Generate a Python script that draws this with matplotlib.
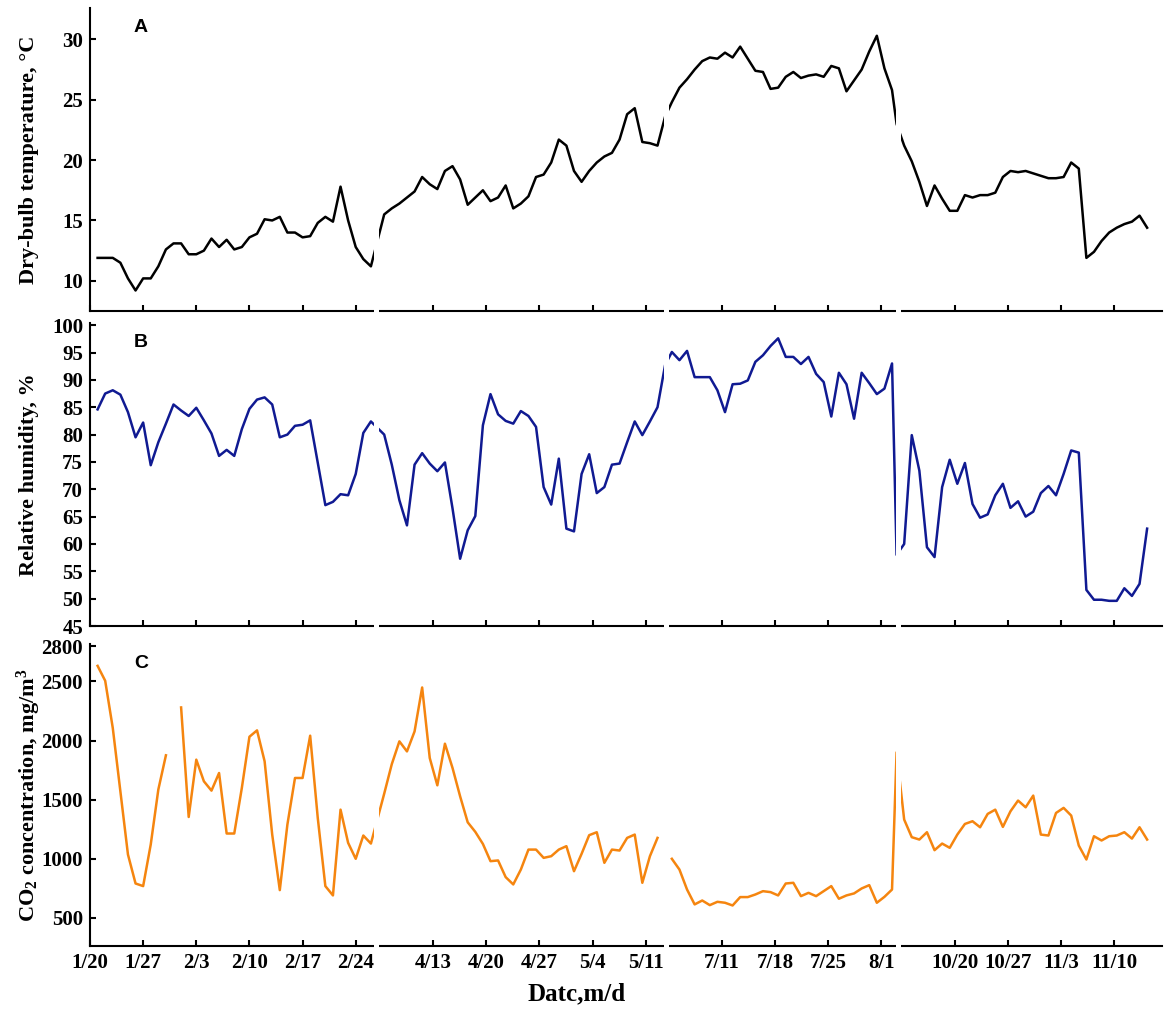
import numpy as np
from matplotlib import pyplot as plt

plt.rcParams['font.family'] = ['Liberation Serif', 'DejaVu Serif']
plt.rcParams['font.weight'] = 'bold'
plt.rcParams['mathtext.fontset'] = 'custom'
plt.rcParams['mathtext.rm'] = 'Liberation Serif:bold'
plt.rcParams['mathtext.it'] = 'Liberation Serif:bold:italic'
plt.rcParams['mathtext.bf'] = 'Liberation Serif:bold'

temp_s1 = [11.9, 11.9, 11.9, 11.5, 10.2, 9.2, 10.2, 10.2, 11.2, 12.6, 13.1, 13.1, 12.2,
           12.2, 12.5, 13.5, 12.8, 13.4, 12.6, 12.8, 13.6, 13.9, 15.1, 15.0, 15.3, 14.0,
           14.0, 13.6, 13.7, 14.8, 15.3, 14.9, 17.8, 15.0, 12.8, 11.8, 11.2]
temp_s2 = [15.5, 16.0, 16.4, 16.9, 17.4, 18.6, 18.0, 17.6, 19.1, 19.5, 18.4, 16.3, 16.9,
           17.5, 16.6, 16.9, 17.9, 16.0, 16.4, 17.0, 18.6, 18.8, 19.8, 21.7, 21.2, 19.1,
           18.2, 19.1, 19.8, 20.3, 20.6, 21.7, 23.8, 24.3, 21.5, 21.4, 21.2, 23.6]
temp_s3 = [24.8, 26.0, 26.7, 27.5, 28.2, 28.5, 28.4, 28.9, 28.5, 29.4, 28.4, 27.4, 27.3,
           25.9, 26.0, 26.9, 27.3, 26.8, 27.0, 27.1, 26.9, 27.8, 27.6, 25.7, 26.6, 27.5,
           29.0, 30.3, 27.6, 25.8]
temp_s4 = [23.0, 21.2, 19.9, 18.2, 16.2, 17.9, 16.8, 15.8, 15.8, 17.1, 16.9, 17.1, 17.1,
           17.3, 18.6, 19.1, 19.0, 19.1, 18.9, 18.7, 18.5, 18.5, 18.6, 19.8, 19.3, 11.9,
           12.4, 13.3, 14.0, 14.4, 14.7, 14.9, 15.4, 14.4]

rh_s1 = [84.6, 87.5, 88.1, 87.3, 84.1, 79.5, 82.2, 74.4, 78.6, 82.0, 85.5, 84.4, 83.4,
         84.9, 82.6, 80.2, 76.1, 77.2, 76.1, 81.0, 84.7, 86.4, 86.8, 85.5, 79.5, 80.0,
         81.6, 81.8, 82.6, 74.8, 67.1, 67.7, 69.1, 68.9, 72.8, 80.3, 82.4]
rh_s2 = [80.0, 74.5, 68.0, 63.4, 74.5, 76.6, 74.7, 73.3, 74.9, 66.5, 57.3, 62.5, 65.1,
         81.7, 87.4, 83.7, 82.5, 82.0, 84.3, 83.4, 81.4, 70.4, 67.2, 75.6, 62.8, 62.3,
         72.8, 76.4, 69.3, 70.4, 74.5, 74.7, 78.6, 82.4, 79.9, 82.4, 85.0, 92.7]
rh_s3 = [95.1, 93.6, 95.3, 90.5, 90.5, 90.5, 88.1, 84.1, 89.2, 89.3, 89.9, 93.3, 94.5,
         96.2, 97.6, 94.2, 94.2, 92.9, 94.2, 91.1, 89.6, 83.3, 91.3, 89.2, 82.9, 91.3,
         89.4, 87.4, 88.4, 93.0]
rh_s4 = [58.0, 60.0, 79.9, 73.4, 59.4, 57.6, 70.4, 75.4, 71.0, 74.8, 67.3, 64.8, 65.4,
         68.9, 71.0, 66.6, 67.8, 65.0, 65.9, 69.3, 70.6, 68.9, 72.8, 77.1, 76.7, 51.6,
         49.8, 49.8, 49.6, 49.6, 51.9, 50.5, 52.7, 62.8]

nan = np.nan
co2_s1 = [2632, 2506, 2106, 1570, 1035, 790, 768, 1120, 1585, 1875, nan, 2280, 1353,
          1838, 1655, 1576, 1725, 1213, 1213, 1599, 2032, 2086, 1824, 1204, 734, 1289,
          1683, 1683, 2041, 1345, 768, 689, 1415, 1134, 999, 1196, 1128]
co2_s2 = [1550, 1800, 1993, 1908, 2077, 2449, 1852, 1621, 1973, 1768, 1528, 1308, 1227,
          1125, 979, 985, 844, 782, 908, 1077, 1077, 1007, 1021, 1077, 1106, 894, 1041,
          1199, 1224, 965, 1077, 1069, 1176, 1204, 796, 1021, 1176, nan]
co2_s3 = [999, 908, 739, 613, 646, 607, 635, 627, 604, 675, 675, 697, 725, 717, 689,
          790, 796, 683, 711, 683, 725, 768, 661, 689, 706, 748, 776, 627, 677, 739]
co2_s4 = [1900, 1331, 1182, 1162, 1224, 1072, 1128, 1092, 1204, 1294, 1317, 1266, 1379,
          1415, 1269, 1401, 1492, 1435, 1534, 1204, 1196, 1387, 1430, 1365, 1111, 993,
          1190, 1154, 1190, 1196, 1224, 1170, 1266, 1162]

date_labels = [['1/20', '1/27', '2/3', '2/10', '2/17', '2/24'],
               ['4/13', '4/20', '4/27', '5/4', '5/11'],
               ['7/11', '7/18', '7/25', '8/1'],
               ['10/20', '10/27', '11/3', '11/10']]

# x layout, in days counted from 1/20 along the drawn axis
first_pt = [1.0, 38.75, 76.64, 106.24]
first_tick = [0.0, 45.19, 83.24, 113.91]
breaks = [(37.42, 38.02), (75.63, 76.28), (106.17, 106.85)]
xmax = 141.2


def join(parts):
    xs = [x0 + np.arange(len(p)) for x0, p in zip(first_pt, parts)]
    ys = [np.asarray(p, dtype=float) for p in parts]
    return np.concatenate(xs), np.concatenate(ys)


ticks, labels = [], []
for t0, labs in zip(first_tick, date_labels):
    for j, lab in enumerate(labs):
        ticks.append(t0 + 7 * j)
        labels.append(lab)

W, H = 1170, 1010
fig = plt.figure(figsize=(W / 100, H / 100), dpi=100)

panels = [
    dict(data=[temp_s1, temp_s2, temp_s3, temp_s4], color='black', top=8, bot=311,
         ylim=(7.5, 32.6), yticks=[10, 15, 20, 25, 30], letter='A',
         ylabel='Dry-bulb temperature, °C'),
    dict(data=[rh_s1, rh_s2, rh_s3, rh_s4], color='#101a92', top=323, bot=626,
         ylim=(45, 100.4), yticks=list(range(45, 101, 5)), letter='B',
         ylabel='Relative humidity, %'),
    dict(data=[co2_s1, co2_s2, co2_s3, co2_s4], color='#f5850f', top=644, bot=946,
         ylim=(261, 2817), yticks=[500, 1000, 1500, 2000, 2500, 2800], letter='C',
         ylabel=r'CO$_2$ concentration, mg/m$^3$'),
]

for i, p in enumerate(panels):
    ax = fig.add_axes([90 / W, 1 - p['bot'] / H, 1072 / W, (p['bot'] - p['top']) / H])
    x, y = join(p['data'])
    ax.plot(x, y, color=p['color'], lw=1.8, zorder=2)
    ax.set_xlim(0, xmax)
    ax.set_ylim(*p['ylim'])
    ax.set_yticks(p['yticks'])
    ax.set_xticks(ticks)
    if i == 2:
        ax.set_xticklabels(labels)
    else:
        ax.set_xticklabels([])
    for s in ['top', 'right']:
        ax.spines[s].set_visible(False)
    for s in ['left', 'bottom']:
        ax.spines[s].set_linewidth(1.5)
    ax.tick_params(direction='in', length=4, width=1.5, labelsize=15, pad=5)
    # white bars hide the line and the axis where the periods meet
    for a, b in breaks:
        r = ax.axvspan(a, b, ymin=-0.02, ymax=1.0, color='white', lw=0, zorder=3)
        r.set_clip_on(False)
    fig.text(141 / W, 1 - (p['top'] + 19) / H, p['letter'], family='Liberation Sans',
             weight='bold', fontsize=14, ha='center', va='center')
    fig.text(29 / W, 1 - (p['top'] + p['bot']) / 2 / H, p['ylabel'], rotation=90,
             fontsize=16, ha='center', va='center')

fig.text(577 / W, 1 - 994 / H, 'Datc,m/d', fontsize=18, ha='center', va='center')

fig.savefig('out.png', dpi=100)
